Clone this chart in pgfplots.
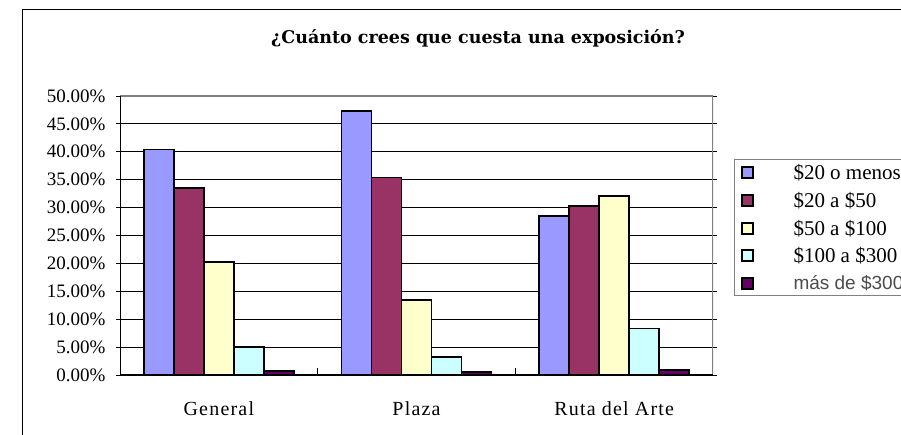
\documentclass[border=0pt]{standalone}
\usepackage{pgfplots}
\pgfplotsset{compat=1.18}
\usepackage{fontspec}
\setmainfont{Liberation Serif}
\newfontfamily\titlefont{DejaVu Serif}
\newfontfamily\sansf{Liberation Sans}
\newfontfamily\serf{Liberation Serif}
\definecolor{cA}{HTML}{9999FF}
\definecolor{cB}{HTML}{993366}
\definecolor{cC}{HTML}{FFFFCC}
\definecolor{cD}{HTML}{CCFFFF}
\definecolor{cE}{HTML}{660066}
\pgfplotsset{
  lg/.style={legend image code/.code={%
    \draw[##1, draw=black, line width=2pt] (0pt,-5.5pt) rectangle (11pt,5.5pt);}},
}
\newcommand{\legtxt}[1]{\hspace{38pt}{\serf\fontsize{21}{23}\selectfont #1}}
\begin{document}
\begin{tikzpicture}[x=1pt,y=1pt]
\path[use as bounding box, clip] (0,0) rectangle (901,435);
\fill[white] (0,0) rectangle (901,435);
\draw[black, line width=1pt] (22,-10) -- (22,425) -- (950,425);
\node[anchor=base, font=\titlefont\bfseries\fontsize{17.5}{20}\selectfont] at (478,391) {¿Cuánto crees que cuesta una exposición?};
\begin{axis}[
  at={(120pt,60pt)}, anchor=south west,
  scale only axis, width=593pt, height=279pt,
  ybar=0pt, bar width=30pt,
  xmin=-0.5, xmax=2.5, ymin=0, ymax=50,
  xtick={0,1,2},
  xticklabels={General,Plaza,Ruta del Arte},
  x tick label style={font=\serf\fontsize{20}{22}\selectfont\addfontfeatures{LetterSpace=6}, anchor=base, yshift=-37pt},
  xtick style={draw=none},
  ytick={0,5,...,50},
  yticklabels={0.00\%,5.00\%,10.00\%,15.00\%,20.00\%,25.00\%,30.00\%,35.00\%,40.00\%,45.00\%,50.00\%},
  y tick label style={font=\serf\fontsize{19}{21}\selectfont, xshift=-7pt},
  ytick style={draw=black, line width=0.8pt},
  tick align=outside, major tick length=4pt,
  ymajorgrids, grid style={black, line width=0.8pt},
  axis line style={draw=none},
  legend style={at={(1.0354,0.7742)}, anchor=north west, draw=gray, line width=1pt,
    font=\serf\fontsize{21}{23}\selectfont, inner xsep=6pt, inner ysep=3pt,
    row sep=7pt, legend cell align=left},
  every axis plot/.append style={draw=black, line width=1.6pt},
]
\addplot[fill=cA, lg] coordinates {(0,40.4) (1,47.3) (2,28.5)};
\addplot[fill=cB, lg] coordinates {(0,33.5) (1,35.4) (2,30.3)};
\addplot[fill=cC, lg] coordinates {(0,20.2) (1,13.4) (2,32.1)};
\addplot[fill=cD, lg] coordinates {(0,5.0) (1,3.2) (2,8.3)};
\addplot[fill=cE, lg] coordinates {(0,0.7) (1,0.5) (2,0.9)};
\legend{\legtxt{\$20 o menos},\legtxt{\$20 a \$50},\legtxt{\$50 a \$100},\legtxt{\$100 a \$300},{\hspace{38pt}{\sansf\fontsize{19}{21}\selectfont\color{black!70}más de \$300}}}
\draw[gray, line width=1.4pt] (rel axis cs:0,1) -- (rel axis cs:1,1) -- (rel axis cs:1,0);
\draw[black, line width=1.2pt] (rel axis cs:0,1) -- (rel axis cs:0,0) -- (rel axis cs:1,0);
\draw[black, line width=0.8pt] (axis cs:0.5,0) -- ([yshift=7pt]axis cs:0.5,0);
\draw[black, line width=0.8pt] (axis cs:1.5,0) -- ([yshift=7pt]axis cs:1.5,0);
\end{axis}
\end{tikzpicture}
\end{document}
